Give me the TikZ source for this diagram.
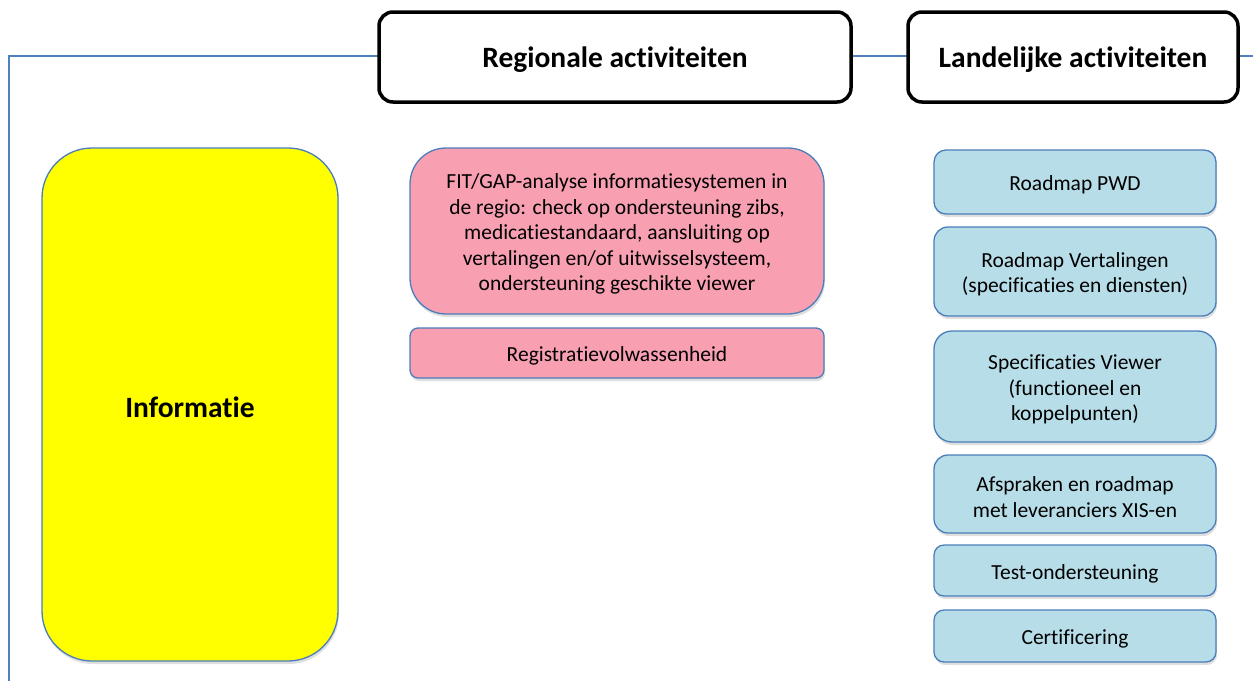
\documentclass[tikz,border=0pt]{standalone}
\usepackage{fontspec}
\setmainfont{Carlito}[Ligatures=NoCommon]
\usetikzlibrary{shadows,positioning}
\definecolor{frameblue}{HTML}{4F81BD}
\definecolor{edgeblue}{HTML}{4A7EBB}
\definecolor{pinkfill}{HTML}{F8A0B2}
\definecolor{bluefill}{HTML}{B7DDE8}
\definecolor{infoyellow}{HTML}{FFFF00}
\tikzset{
  x=1pt, y=-1pt,
  softshadow/.style={drop shadow={opacity=0.25, shadow xshift=1pt, shadow yshift=-3pt}},
  header/.style={draw=black, line width=3.5pt, fill=white, rounded corners=14pt, inner sep=0pt},
  headtxt/.style={font=\fontsize{29.5}{34}\selectfont\bfseries, align=center, inner sep=0pt},
  block/.style={draw=edgeblue, line width=1.3pt, softshadow, inner sep=0pt},
  pinkbox/.style={block, fill=pinkfill},
  bluebox/.style={block, fill=bluefill},
  txt/.style={align=center, inner sep=0pt, font=\fontsize{21.5}{25.5}\selectfont},
}
% a box given by its corners (x1,y1) and (x2,y2)
\newcommand{\boxat}[6]{% style, name, x1, y1, x2, y2
  \node[#1, minimum width={#5-#3}, minimum height={#6-#4}] (#2) at ({(#3+#5)/2},{(#4+#6)/2}) {}}
% text placed a little below the centre of a box
\newcommand{\boxtext}[4]{% style, name, box, text
  \node[#1] (#2) at ([yshift=-3pt]#3.center) {#4}}
\begin{document}
\begin{tikzpicture}
\useasboundingbox (0,0) rectangle (1253,681);
% outer frame (top and left edges)
\coordinate (fr) at (1253,56);
\coordinate (fc) at (9,56);
\coordinate (fb) at (9,681);
\draw[frameblue, line width=1.3pt] (fr) -- (fc) -- (fb);

% column headers
\boxat{header}{reg}{379}{12}{851}{102};
\boxtext{headtxt}{regt}{reg}{Regionale activiteiten};
\boxat{header}{land}{908}{12}{1238}{102};
\boxtext{headtxt}{landt}{land}{Landelijke activiteiten};

% left block
\boxat{block, fill=infoyellow, rounded corners=50pt}{info}{42}{148}{338}{661};
\boxtext{headtxt}{infot}{info}{Informatie};

% regional activities
\boxat{pinkbox, rounded corners=36pt}{fit}{410}{148}{824}{314};
\boxtext{txt}{fitt}{fit}{FIT/GAP-analyse informatiesystemen in\\de regio: check op ondersteuning zibs,\\medicatiestandaard, aansluiting op\\vertalingen en/of uitwisselsysteem,\\ondersteuning geschikte viewer};
\boxat{pinkbox, rounded corners=8pt}{reg1}{410}{328}{824}{378};
\boxtext{txt}{reg1t}{reg1}{Registratievolwassenheid};

% national activities
\boxat{bluebox, rounded corners=12pt}{l1}{934}{150}{1216}{214};
\boxtext{txt}{l1t}{l1}{Roadmap PWD};
\boxat{bluebox, rounded corners=14pt}{l2}{934}{227}{1216}{316};
\boxtext{txt}{l2t}{l2}{Roadmap Vertalingen\\(specificaties en diensten)};
\boxat{bluebox, rounded corners=18pt}{l3}{934}{331}{1216}{442};
\boxtext{txt}{l3t}{l3}{Specificaties Viewer\\(functioneel en\\koppelpunten)};
\boxat{bluebox, rounded corners=14pt}{l4}{934}{455}{1216}{533};
\boxtext{txt}{l4t}{l4}{Afspraken en roadmap\\met leveranciers XIS-en};
\boxat{bluebox, rounded corners=10pt}{l5}{934}{545}{1216}{596};
\boxtext{txt}{l5t}{l5}{Test-ondersteuning};
\boxat{bluebox, rounded corners=10pt}{l6}{934}{610}{1216}{662};
\boxtext{txt}{l6t}{l6}{Certificering};
\end{tikzpicture}
\end{document}
